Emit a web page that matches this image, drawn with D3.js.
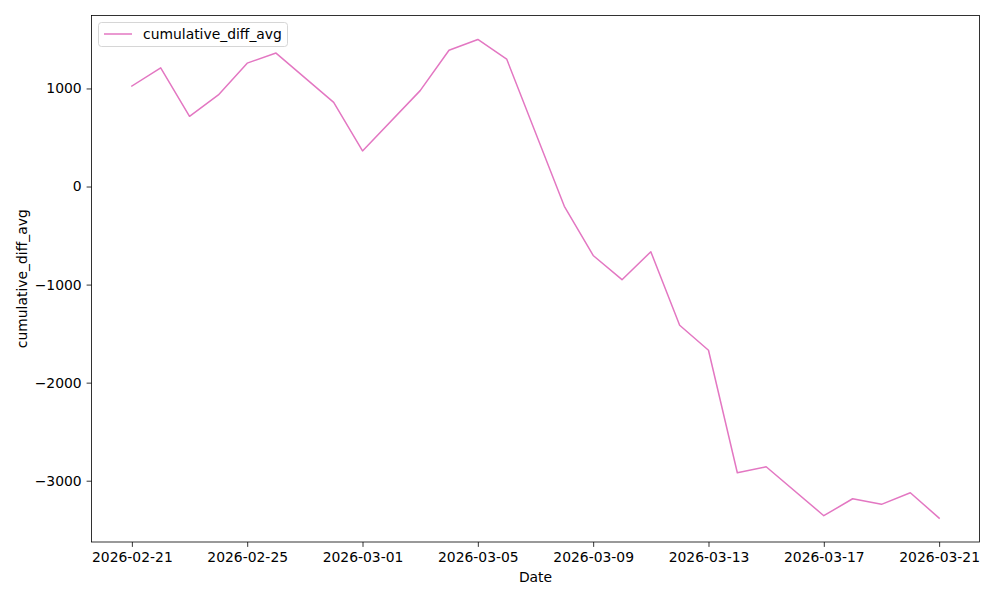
<!DOCTYPE html>
<html><head><meta charset="utf-8">
<script src="https://cdn.jsdelivr.net/npm/d3@7"></script>
<style>body{margin:0;background:#fff}svg{display:block}text{font-family:"DejaVu Sans",sans-serif;}</style>
</head><body>
<script>
const dates = ["2026-02-21","2026-02-22","2026-02-23","2026-02-24","2026-02-25","2026-02-26","2026-02-28","2026-03-01","2026-03-03","2026-03-04","2026-03-05","2026-03-06","2026-03-08","2026-03-09","2026-03-10","2026-03-11","2026-03-12","2026-03-13","2026-03-14","2026-03-15","2026-03-17","2026-03-18","2026-03-19","2026-03-20","2026-03-21"];
const values = [1025,1210,716,934,1258,1361,858,363,978,1390,1500,1300,-202,-703,-950,-665,-1415,-1670,-2919,-2858,-3357,-3184,-3241,-3123,-3381];
const yTicks = [1000,0,-1000,-2000,-3000];
const xTickLabels = ["2026-02-21","2026-02-25","2026-03-01","2026-03-05","2026-03-09","2026-03-13","2026-03-17","2026-03-21"];
const seriesName = "cumulative_diff_avg";

const W=1000,H=600, L=91.5, R=979.5, T=15.5, B=542;
const parse = d3.utcParse("%Y-%m-%d");
const data = dates.map((d,i)=>({x:parse(d), y:values[i]}));
const svg = d3.select("body").append("svg").attr("width",W).attr("height",H);

const xExt = d3.extent(data,d=>d.x);
const span = xExt[1]-xExt[0];
const x = d3.scaleUtc().domain([new Date(+xExt[0]-span*0.05), new Date(+xExt[1]+span*0.05)]).range([L,R]);
const yExt = d3.extent(values);
const ys = yExt[1]-yExt[0];
const y = d3.scaleLinear().domain([yExt[0]-ys*0.05, yExt[1]+ys*0.05]).range([B,T]);

const fs = 13.9;
// line
svg.append("path").datum(data)
  .attr("d", d3.line().x(d=>x(d.x)).y(d=>y(d.y)))
  .attr("fill","none").attr("stroke","#e377c2").attr("stroke-width",1.5)
  .attr("stroke-linejoin","round").attr("stroke-linecap","square");

// axes
const xAxis = d3.axisBottom(x).tickValues(xTickLabels.map(parse)).tickFormat(d3.utcFormat("%Y-%m-%d")).tickSizeInner(4.9).tickSizeOuter(0).tickPadding(4.9);
const gx = svg.append("g").attr("transform",`translate(0,${B})`).call(xAxis);
const yAxis = d3.axisLeft(y).tickValues(yTicks).tickFormat(d=>d<0?"\u2212"+Math.abs(d):d).tickSizeInner(4.9).tickSizeOuter(0).tickPadding(4.9);
const gy = svg.append("g").attr("transform",`translate(${L},0)`).call(yAxis);
[gx,gy].forEach(g=>{
  g.select(".domain").remove();
  g.selectAll("line").attr("stroke","#000").attr("stroke-width",0.8);
  g.selectAll("text").attr("font-size",fs).attr("fill","#000").attr("font-family","DejaVu Sans");
});
// frame
svg.append("rect").attr("x",L).attr("y",T).attr("width",R-L).attr("height",B-T)
  .attr("fill","none").attr("stroke","#000").attr("stroke-width",0.8);

// labels
svg.append("text").attr("x",(L+R)/2).attr("y",582).attr("text-anchor","middle").attr("font-size",fs).text("Date");
svg.append("text").attr("transform",`translate(27,${(T+B)/2}) rotate(-90)`).attr("text-anchor","middle").attr("font-size",fs).text(seriesName);

// legend
const lg = svg.append("g");
lg.append("rect").attr("x",98.5).attr("y",22.5).attr("width",189).attr("height",24).attr("rx",3)
  .attr("fill","#fff").attr("fill-opacity",0.8).attr("stroke","#ccc").attr("stroke-width",0.8);
lg.append("line").attr("x1",104).attr("x2",132).attr("y1",34).attr("y2",34).attr("stroke","#e377c2").attr("stroke-width",1.5);
lg.append("text").attr("x",143).attr("y",39).attr("font-size",fs).text(seriesName);
</script>
</body></html>
